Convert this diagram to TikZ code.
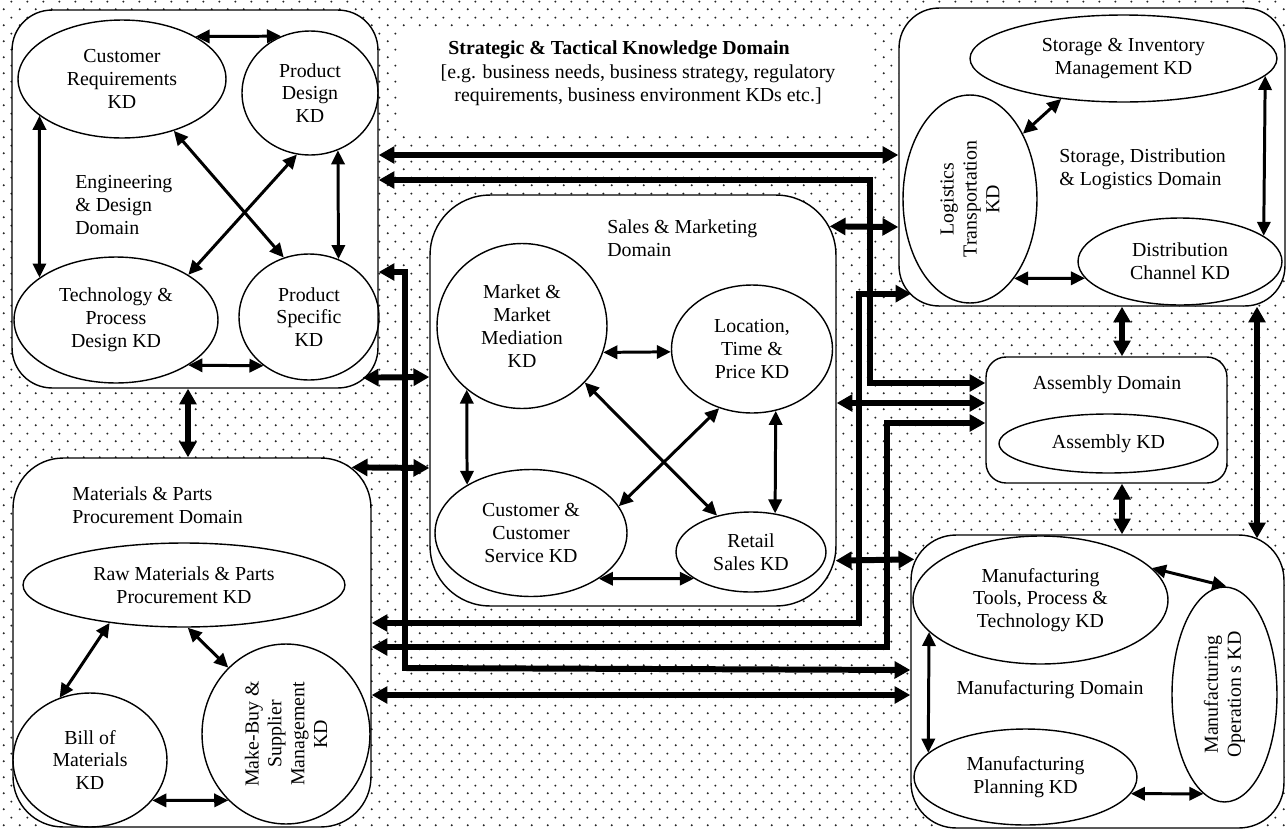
\documentclass[tikz,border=0pt]{standalone}
\usepackage{fontspec}
\setmainfont{Liberation Serif}
\usepackage{tikz}
\usetikzlibrary{positioning, shapes.geometric, arrows.meta, patterns, calc}

\pgfdeclarepatternformonly{kddots}{\pgfpointorigin}{\pgfqpoint{8.87pt}{8.87pt}}{\pgfqpoint{8.87pt}{8.87pt}}{%
  \pgfpathcircle{\pgfqpoint{2.2pt}{2.2pt}}{0.62pt}%
  \pgfpathcircle{\pgfqpoint{6.63pt}{6.63pt}}{0.62pt}%
  \pgfusepath{fill}%
}

\begin{document}
\begin{tikzpicture}[x=0.02cm, y=-0.02cm,
    every node/.style={font=\fontsize{11.3pt}{13pt}\selectfont},
    dombox/.style={draw, rectangle, fill=white, line width=0.8pt},
    dname/.style={align=left, anchor=west, inner sep=0pt},
    kd/.style={draw, ellipse, line width=0.8pt, align=center, inner sep=0pt},
    kdlink/.style={<->, >={Triangle[length=8pt, width=7.5pt]}, line width=1.7pt},
    dlink/.style={<->, >={Triangle[length=9pt, width=9.5pt]}, line width=3.4pt}]

    % Background
    \useasboundingbox (0,0) rectangle (1286,829);
    \fill[pattern=kddots, pattern color=black!85] (0,0) rectangle (1286,829);
    \fill[white] (397,32) rectangle (872,131);

    % Domains
    \node[dombox, minimum width=7.32cm, minimum height=7.56cm, rounded corners=0.8cm] (eng) at (195,199) {};
    \node[dombox, minimum width=7.16cm, minimum height=7.38cm, rounded corners=1cm] (mat) at (192,642.5) {};
    \node[dombox, minimum width=8.12cm, minimum height=8.22cm, rounded corners=1.2cm] (sales) at (633,400.5) {};
    \node[dombox, minimum width=7.72cm, minimum height=5.96cm, rounded corners=0.8cm] (stor) at (1092,157) {};
    \node[dombox, minimum width=4.82cm, minimum height=2.52cm, rounded corners=0.4cm] (asm) at (1106.5,420) {};
    \node[dombox, minimum width=7.46cm, minimum height=5.86cm, rounded corners=0.9cm] (manu) at (1097.5,681.5) {};

    % Domain names
    \node[font=\fontsize{11.3pt}{13pt}\selectfont\bfseries] (strattitle) at (619,50) {Strategic \& Tactical Knowledge Domain};
    \node[align=center] (stratnote) at (638,85) {[e.g. business needs, business strategy, regulatory\\requirements, business environment KDs etc.]};
    \node[dname] (engname) at (75,205) {Engineering\\\& Design\\Domain};
    \node[dname] (matname) at (72,505) {Materials \& Parts\\Procurement Domain};
    \node[dname] (salesname) at (607,238) {Sales \& Marketing\\Domain};
    \node[dname] (storname) at (1059,169) {Storage, Distribution\\\& Logistics Domain};
    \node (asmname) at (1107,385) {Assembly Domain};
    \node (manuname) at (1050,690) {Manufacturing Domain};

    % Knowledge domains
    \node[kd, minimum width=4.16cm, minimum height=2.36cm] (custreq) at (122,79) {Customer\\Requirements\\KD};
    \node[kd, minimum width=2.72cm, minimum height=2.48cm] (proddes) at (310,93) {Product\\Design\\KD};
    \node[kd, minimum width=4.08cm, minimum height=2.52cm] (techproc) at (116,320) {Technology \&\\Process\\Design KD};
    \node[kd, minimum width=2.80cm, minimum height=2.52cm] (prodspec) at (309,317) {Product\\Specific\\KD};

    \node[kd, minimum width=6.44cm, minimum height=1.68cm] (rawmat) at (184,585) {Raw Materials \& Parts\\Procurement KD};
    \node[kd, minimum width=3.08cm, minimum height=2.68cm] (bom) at (90,760) {Bill of\\Materials\\KD};
    \node[kd, rotate=90, minimum width=3.6cm, minimum height=3.36cm] (makebuy) at (286,734) {Make-Buy \&\\Supplier\\Management\\KD};

    \node[kd, minimum width=3.40cm, minimum height=3.30cm] (market) at (522,326) {Market \&\\Market\\Mediation\\KD};
    \node[kd, minimum width=3.22cm, minimum height=2.56cm] (location) at (752,349) {Location,\\Time \&\\Price KD};
    \node[kd, minimum width=3.84cm, minimum height=2.54cm] (custserv) at (531,533) {Customer \&\\Customer\\Service KD};
    \node[kd, minimum width=3.00cm, minimum height=1.60cm] (retail) at (751,552) {Retail\\Sales KD};

    \node[kd, minimum width=6.14cm, minimum height=1.74cm] (storinv) at (1123.5,58.5) {Storage \& Inventory\\Management KD};
    \node[kd, rotate=90, minimum width=4.16cm, minimum height=2.68cm] (logist) at (970,199) {Logistics\\Transportation\\KD};
    \node[kd, minimum width=4.08cm, minimum height=1.74cm] (distch) at (1180,261.5) {Distribution\\Channel KD};

    \node[kd, minimum width=4.38cm, minimum height=1.18cm] (asmkd) at (1108.5,443.5) {Assembly KD};

    \node[kd, minimum width=5.10cm, minimum height=2.56cm] (tools) at (1040.5,600) {Manufacturing\\Tools, Process \&\\Technology KD};
    \node[kd, rotate=90, minimum width=4.30cm, minimum height=2.10cm] (ops) at (1224.5,694.5) {Manufacturing\\Operation s KD};
    \node[kd, minimum width=4.46cm, minimum height=1.92cm] (plan) at (1025.5,777) {Manufacturing\\Planning KD};

    % Arrows inside the domains
    \draw[kdlink] (custreq.30) -- (proddes.117);
    \draw[kdlink] (custreq.204) -- (techproc.151);
    \draw[kdlink] (custreq.-45) -- (prodspec.113);
    \draw[kdlink] (proddes.258) -- (techproc.32);
    \draw[kdlink] (proddes.296) -- (prodspec.63);
    \draw[kdlink] (techproc.328) -- (prodspec.227);

    \draw[kdlink] (rawmat.207) -- (bom.116);
    \draw[kdlink] (rawmat.275) -- (makebuy.41);
    \draw[kdlink] (bom.327) -- (makebuy.139);

    \draw[kdlink] (market.342) -- (location.182);
    \draw[kdlink] (market.229) -- (custserv.143);
    \draw[kdlink] (market.318) -- (retail.133);
    \draw[kdlink] (location.241) -- (custserv.17);
    \draw[kdlink] (location.291) -- (retail.58);
    \draw[kdlink] (custserv.326) -- (retail.205);

    \draw[kdlink] (storinv.213) -- (logist.-39);
    \draw[kdlink] (storinv.353) -- (distch.17);
    \draw[kdlink] (logist.209) -- (distch.190);

    \draw[kdlink] (tools.16) -- (ops.-1);
    \draw[kdlink] (tools.196) -- (plan.166);
    \draw[kdlink] (plan.351) -- (ops.168);

    % Arrows between the domains
    \draw[dlink] (eng.east |- 0,155) -- (stor.west |- 0,155);
    \draw[dlink] (eng.east |- 0,180) -| (870,383) -- (asm.west |- 0,383);
    \draw[dlink] ($(sales.north east)+(-7,32)$) -- (stor.west |- 0,227);
    \draw[dlink] ($(stor.south west)+(13,-13)$) -| (859,623) -- (mat.east |- 0,623);
    \draw[dlink] (asm.west |- 0,423) -| (887,647) -- (mat.east |- 0,647);
    \draw[dlink] (sales.east |- 0,403) -- (asm.west |- 0,403);
    \draw[dlink] (eng.east |- 0,272) -| (405,668) -- (manu.west |- 0,670);
    \draw[dlink] ($(eng.south east)+(-16,-11)$) -- (sales.west |- 0,377);
    \draw[dlink] ($(mat.north east)+(-20,10)$) -- (sales.west |- 0,468);
    \draw[dlink] ($(sales.south east)+(-1,-46)$) -- ($(manu.north west)+(4,25)$);
    \draw[dlink] (mat.east |- 0,695) -- (manu.west |- 0,695);
    \draw[dlink] (eng.south -| 188,0) -- (mat.north -| 188,0);
    \draw[dlink] (stor.south -| 1122,0) -- (asm.north -| 1122,0);
    \draw[dlink] (asm.south -| 1122,0) -- (manu.north -| 1122,0);
    \draw[dlink] (stor.south -| 1257,0) -- ($(manu.north -| 1257,0)+(0,4)$);
\end{tikzpicture}
\end{document}
